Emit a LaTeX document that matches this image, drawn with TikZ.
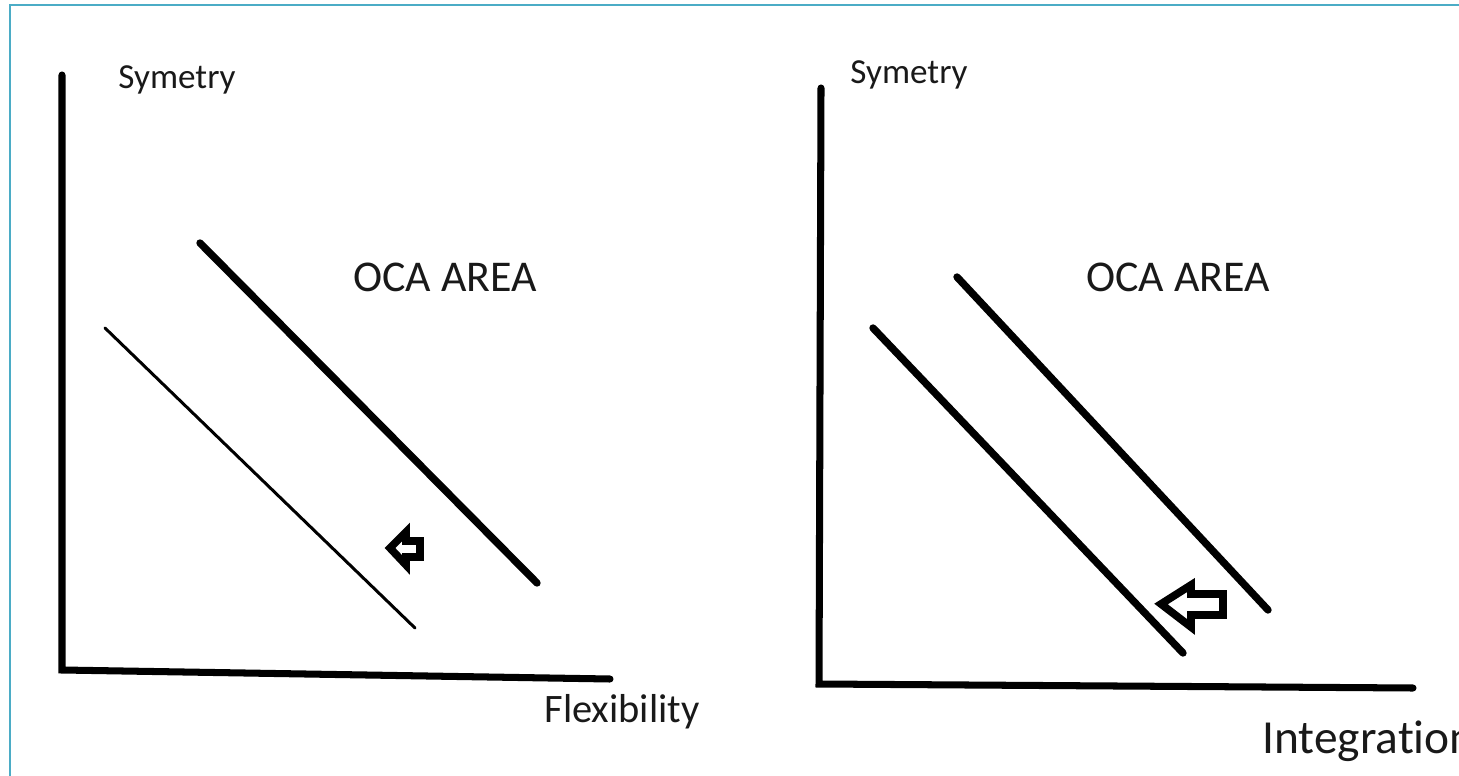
\documentclass[tikz,border=0pt]{standalone}
\usepackage{fontspec}
\setmainfont{Carlito}[Ligatures=NoCommon]
\definecolor{frameblue}{HTML}{4BACC6}
\tikzset{
    axis/.style={line width=4pt, line cap=round},
    thinline/.style={line width=1.7pt, line cap=round},
    thickline/.style={line width=4.2pt, line cap=round},
    blockarrow/.style={line width=4.4pt, line join=miter, fill=white},
    axislabel/.style={font=\fontsize{20}{24}\selectfont, text=black!90, inner sep=0pt},
    arealabel/.style={font=\fontsize{25}{30}\selectfont, text=black!90, inner sep=0pt},
}
\begin{document}
\begin{tikzpicture}[x=0.02cm, y=-0.02cm]
    \useasboundingbox (0,0) rectangle (1459,776);
    \clip (0,0) rectangle (1459,776);

    % frame
    \draw[frameblue, line width=1.2pt] (10,776) -- (10,5) -- (1459,5);

    \begin{scope}
        \coordinate (O1) at (62,670);
        \coordinate (Y1) at (62,75);
        \coordinate (X1) at (610,679);
        \draw[axis] (Y1) -- (O1) -- (X1);

        \draw[thinline] (105,328) -- (415,628);
        \draw[thickline] (200,243) -- (537,583);

        \draw[blockarrow] (390,548) -- (406,532) -- (406,541) -- (420,541)
            -- (420,557) -- (406,557) -- (406,565) -- cycle;

        \node[axislabel] (symL) at (177,80) {Symetry};
        \node[axislabel, font=\fontsize{23}{27}\selectfont] (flex) at (622,712) {Flexibility};
        \node[arealabel] (ocaL) at (445,277) {OCA AREA};
    \end{scope}

    \begin{scope}
        \coordinate (O2) at (819,684);
        \coordinate (Y2) at (821,88);
        \coordinate (X2) at (1413,688);
        \draw[axis] (Y2) -- (O2) -- (X2);

        \draw[thickline] (873,328) -- (1183,653);
        \draw[thickline] (957,277) -- (1268,610);

        \draw[blockarrow] (1161,604) -- (1191,585) -- (1191,594) -- (1223,594)
            -- (1223,615) -- (1191,615) -- (1191,627) -- cycle;

        \node[axislabel] (symR) at (909,75) {Symetry};
        \node[arealabel, font=\fontsize{27}{32}\selectfont, anchor=west] (integ) at (1262,741) {Integration};
        \node[arealabel] (ocaR) at (1178,277) {OCA AREA};
    \end{scope}
\end{tikzpicture}
\end{document}
